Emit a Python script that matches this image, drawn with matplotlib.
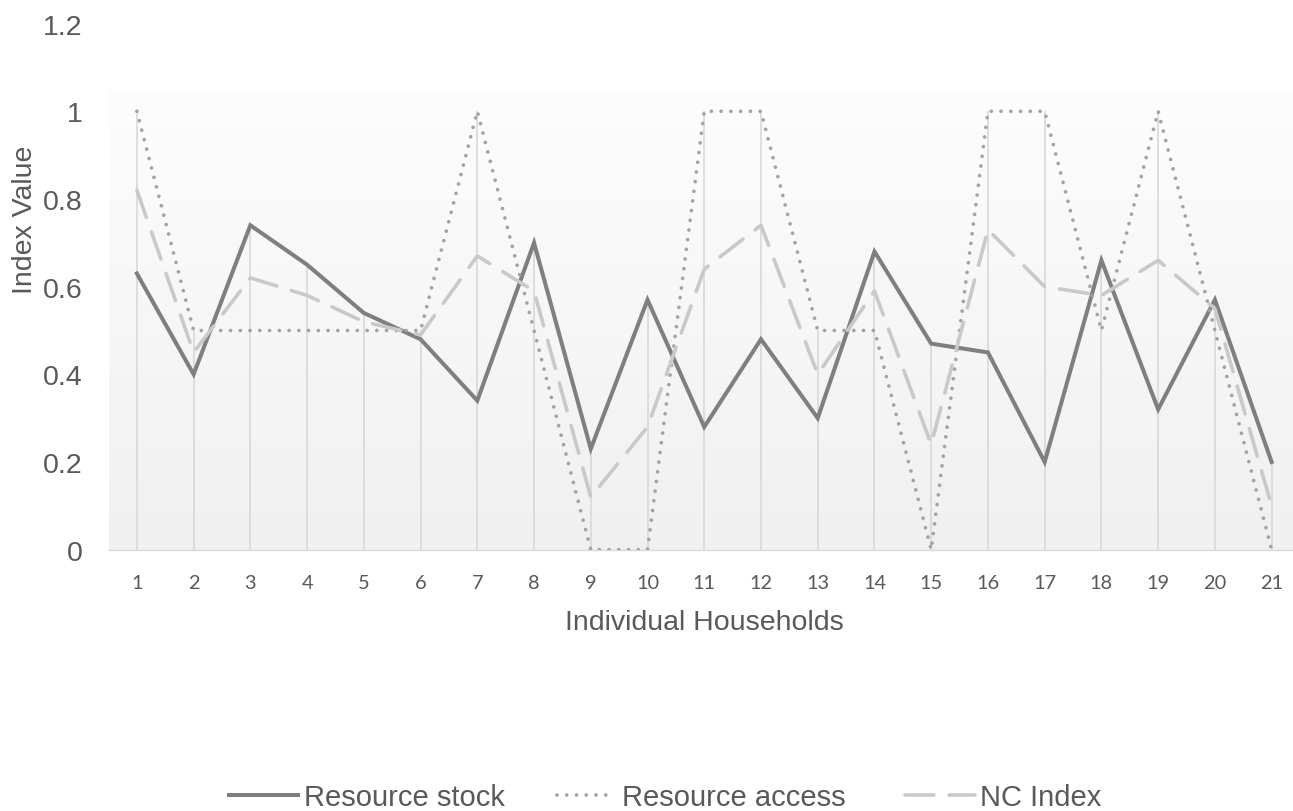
import numpy as np
import matplotlib
matplotlib.use("Agg")
import matplotlib.pyplot as plt
from matplotlib.colors import LinearSegmentedColormap
from matplotlib.lines import Line2D

plt.rcParams['font.family'] = ['Liberation Sans', 'DejaVu Sans']

# data
households = list(range(1, 22))
resource_stock = [0.63, 0.40, 0.74, 0.65, 0.54, 0.48, 0.34, 0.70, 0.23, 0.57, 0.28,
                  0.48, 0.30, 0.68, 0.47, 0.45, 0.20, 0.66, 0.32, 0.57, 0.20]
resource_access = [1.0, 0.5, 0.5, 0.5, 0.5, 0.5, 1.0, 0.5, 0.0, 0.0, 1.0,
                   1.0, 0.5, 0.5, 0.0, 1.0, 1.0, 0.5, 1.0, 0.5, 0.0]
nc_index = [0.82, 0.45, 0.62, 0.58, 0.52, 0.49, 0.67, 0.59, 0.12, 0.28, 0.64,
            0.74, 0.40, 0.59, 0.24, 0.73, 0.60, 0.58, 0.66, 0.55, 0.10]
y_ticks = [0, 0.2, 0.4, 0.6, 0.8, 1, 1.2]
y_tick_labels = ['0', '0.2', '0.4', '0.6', '0.8', '1', '1.2']
series_names = ['Resource stock', 'Resource access', 'NC Index']

W, H = 1293, 812
txt = '#595959'
fs = 20.5

fig = plt.figure(figsize=(W / 100, H / 100), dpi=100)
ax = fig.add_axes([108.5 / W, 1 - 550.7 / H, (1300 - 108.5) / W, (550.7 - 24.6) / H])
ax.set_xlim(0.5, 21.5)
ax.set_ylim(0, 1.2)
ax.set_facecolor('none')

# plot area gradient (light at top, grey at bottom)
grad = LinearSegmentedColormap.from_list('g', ['#f0f0f0', '#fdfdfd'])
ax.imshow(np.linspace(0, 1, 256).reshape(-1, 1), cmap=grad, origin='lower',
          extent=[0.5, 21.5, 0, 1.045], aspect='auto', zorder=0)

# drop lines from highest point of each household
tops = np.max([resource_stock, resource_access, nc_index], axis=0)
ax.vlines(households, 0, tops, color='#d6d6d6', lw=1.1, zorder=1)

stock_style = dict(color='#7f7f7f', lw=2.9)
access_style = dict(color='#a3a3a3', lw=2.7, linestyle=(0, (0.001, 2.6)), dash_capstyle='round')
nc_style = dict(color='#c9c9c9', lw=2.6, linestyle=(0, (8, 4.2)), dash_capstyle='round')

ax.plot(households, resource_stock, solid_joinstyle='miter', zorder=3, **stock_style)
ax.plot(households, resource_access, zorder=3, **access_style)
ax.plot(households, nc_index, zorder=3, **nc_style)

for s in ['top', 'right', 'left']:
    ax.spines[s].set_visible(False)
ax.spines['bottom'].set_color('#d9d9d9')
ax.spines['bottom'].set_linewidth(1.0)

ax.set_yticks(y_ticks)
ax.set_yticklabels(y_tick_labels)
ax.tick_params(axis='y', length=0, pad=18.6, labelsize=fs, labelcolor=txt)
ax.set_xticks(households)
ax.set_xticklabels([str(h) for h in households], family='Lato', fontsize=14.4, color=txt)
ax.tick_params(axis='x', length=0, pad=17.5)

fig.text((108.5 + 1300) / 2 / W, 1 - 630 / H, 'Individual Households',
         ha='center', va='baseline', fontsize=fs, color=txt)
fig.text(24.5 / W, 1 - 220 / H, 'Index Value', rotation=90,
         ha='center', va='center', fontsize=fs, color=txt)

# legend entries placed separately (Excel spacing is uneven)
handles = [Line2D([], [], **stock_style),
           Line2D([], [], **access_style),
           Line2D([], [], **nc_style)]
starts = [229, 557, 905]
lengths = [2.35, 2.0, 2.4]
pads = [0.23, 0.23, 0.16]
for h, name, x0, hl, tp in zip(handles, series_names, starts, lengths, pads):
    fig.legend([h], [name], loc='center left', bbox_to_anchor=(x0 / W, 1 - 798 / H),
               frameon=False, fontsize=21, labelcolor=txt, borderpad=0,
               borderaxespad=0, handlelength=hl, handletextpad=tp)

fig.savefig('out.png', dpi=100)
